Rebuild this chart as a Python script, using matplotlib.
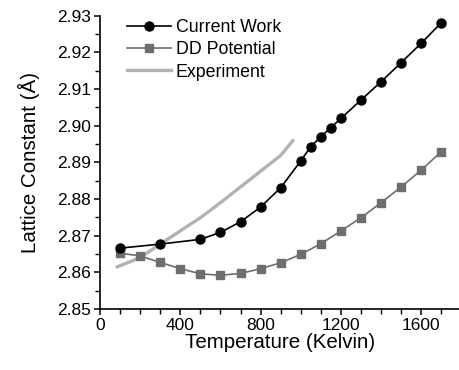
import matplotlib
matplotlib.use("Agg")
import matplotlib.pyplot as plt
from matplotlib.ticker import MultipleLocator, FormatStrFormatter

plt.rcParams['font.family'] = ['Liberation Sans', 'DejaVu Sans']

# Current work (MD) lattice constant vs temperature
cw_T = [100, 300, 500, 600, 700, 800, 900, 1000, 1050, 1100, 1150, 1200,
        1300, 1400, 1500, 1600, 1700]
cw_a = [2.8666, 2.8677, 2.8690, 2.8709, 2.8738, 2.8778, 2.8831, 2.8904,
        2.8943, 2.8970, 2.8995, 2.9020, 2.9070, 2.9120, 2.9172, 2.9225, 2.9281]

# DD potential
dd_T = [100, 200, 300, 400, 500, 600, 700, 800, 900, 1000, 1100, 1200,
        1300, 1400, 1500, 1600, 1700]
dd_a = [2.8652, 2.8645, 2.8627, 2.8610, 2.8596, 2.8592, 2.8597, 2.8610,
        2.8626, 2.8649, 2.8678, 2.8713, 2.8749, 2.8790, 2.8833, 2.8879, 2.8929]

# Experimental data
ex_T = [86, 200, 300, 400, 500, 600, 700, 800, 900, 960]
ex_a = [2.8615, 2.8640, 2.8677, 2.8713, 2.8749, 2.8790, 2.8833, 2.8876,
        2.8919, 2.8959]

fig = plt.figure(figsize=(4.6, 3.7), dpi=100)
ax = fig.add_axes([100/460, 61/370, 360/460, 293.3/370])

ax.plot(ex_T, ex_a, color='#b2b2b2', lw=2.4, label='Experiment', zorder=1,
        solid_joinstyle='round')
ax.plot(dd_T, dd_a, color='#6e6e6e', lw=1.2, marker='s', ms=5.5,
        label='DD Potential', zorder=2)
ax.plot(cw_T, cw_a, color='black', lw=1.2, marker='o', ms=6.5,
        label='Current Work', zorder=3)

ax.set_xlim(0, 1793)
ax.set_ylim(2.85, 2.93)
ax.xaxis.set_major_locator(MultipleLocator(400))
ax.xaxis.set_minor_locator(MultipleLocator(100))
ax.yaxis.set_major_locator(MultipleLocator(0.01))
ax.yaxis.set_minor_locator(MultipleLocator(0.005))
ax.yaxis.set_major_formatter(FormatStrFormatter('%.2f'))

for s in ('top', 'right'):
    ax.spines[s].set_visible(False)
for s in ('left', 'bottom'):
    ax.spines[s].set_linewidth(1.2)

ax.tick_params(which='major', length=4.5, width=1.1, labelsize=12.5, pad=2)
ax.tick_params(which='minor', length=3.5, width=1.0)

ax.set_xlabel('Temperature (Kelvin)', fontsize=14.8, labelpad=0)
ax.set_ylabel('Lattice Constant (Å)', fontsize=14.8, labelpad=12)

handles, labels = ax.get_legend_handles_labels()
order = [2, 1, 0]
ax.legend([handles[i] for i in order], [labels[i] for i in order],
          loc='upper left', bbox_to_anchor=(0.055, 1.013), frameon=False,
          fontsize=12.8, handlelength=2.5, handletextpad=0.25,
          labelspacing=0.3, borderaxespad=0)

fig.savefig('out.png', dpi=100)
